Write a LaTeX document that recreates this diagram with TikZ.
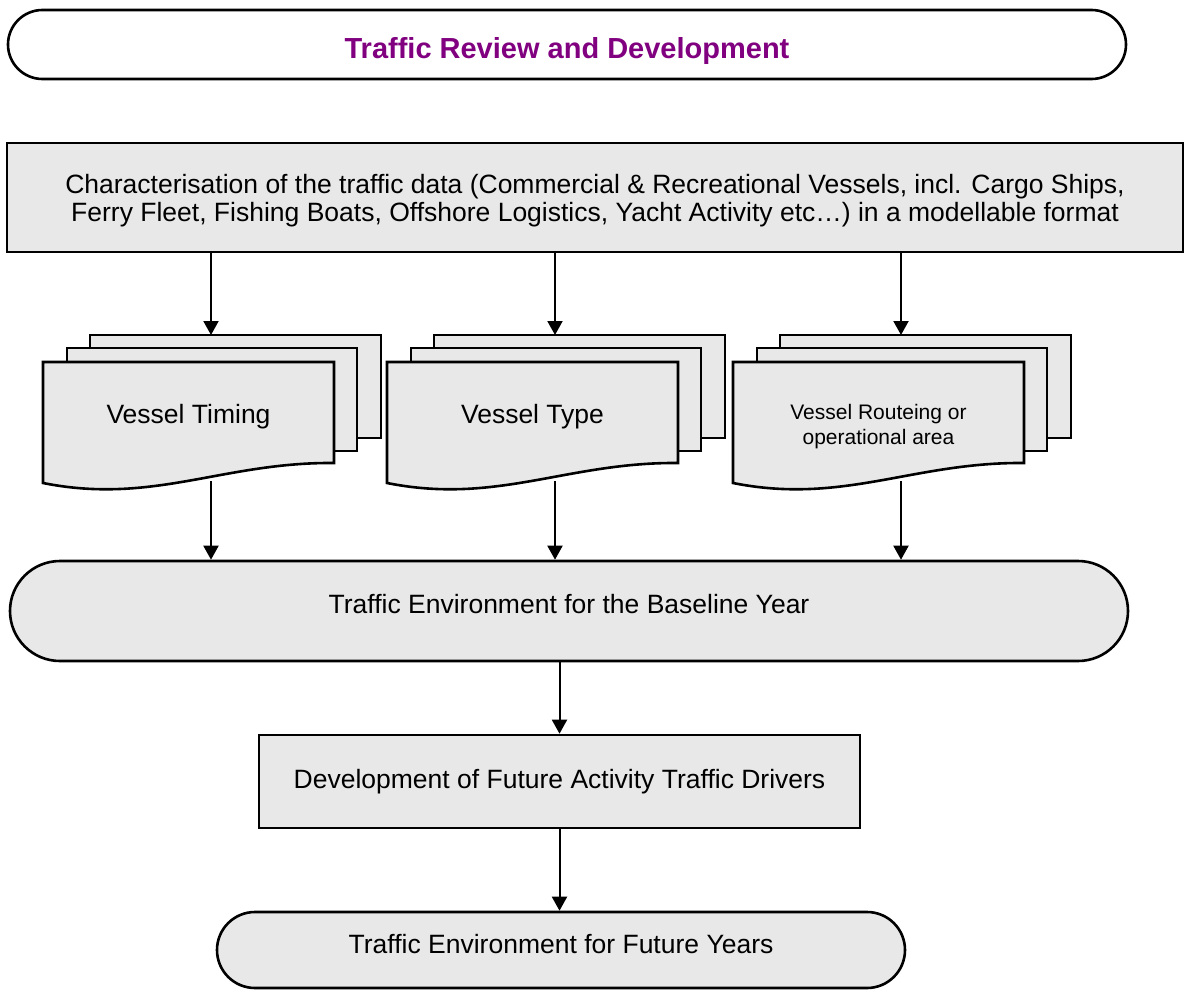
\documentclass[tikz,border=0pt]{standalone}
\usepackage{fontspec}
\setmainfont{Liberation Sans}
\usepackage{tikz}
\usetikzlibrary{arrows.meta,shapes.misc,calc}
\definecolor{paper}{HTML}{E8E8E8}
\definecolor{heading}{HTML}{800080}

\tikzset{
  box/.style={draw=black,line width=2.6pt,fill=paper,rectangle,inner sep=0pt},
  pill/.style={draw=black,line width=2.6pt,fill=paper,rounded rectangle,inner sep=0pt},
  sheet/.style={draw=black,line width=2.6pt,fill=paper},
  flow/.style={line width=2pt,-{Triangle[length=14pt,width=15pt]}},
  body/.style={font=\fontsize{26.5}{28}\selectfont,align=center}
}

\begin{document}
\begin{tikzpicture}[x=1pt,y=-1pt]
  \useasboundingbox (0,0) rectangle (1184,990);
  % heading
  \node[pill,fill=white,minimum width=1118pt,minimum height=69pt,text=heading,
        font=\bfseries\fontsize{29}{34}\selectfont,text height=29pt,text depth=0pt]
      (head) at (567,44.5) {Traffic Review and Development};
  % traffic data
  \node[box,body,minimum width=1176pt,minimum height=109pt,text depth=-2pt] (char) at (595,197.5)
      {Characterisation of the traffic data (Commercial \& Recreational Vessels, incl. Cargo Ships,\\
       Ferry Fleet, Fishing Boats, Offshore Logistics, Yacht Activity etc…) in a modellable format};
  % stacked documents
  \foreach \dx [count=\i] in {0,344,690}{
    \draw[sheet] (90+\dx,335) rectangle (381+\dx,438);
    \draw[sheet] (67+\dx,348) rectangle (357+\dx,451);
    \draw[sheet] (43+\dx,362) -- (334+\dx,362) -- (334+\dx,463)
       .. controls (223+\dx,462) and (153+\dx,505) .. (43+\dx,483) -- cycle;
    \coordinate (in\i) at (211+\dx,335);
    \coordinate (out\i) at (211+\dx,481);}
  \node[body] (timing) at (188.5,417) {Vessel Timing};
  \node[body] (type) at (532.5,417) {Vessel Type};
  \node[align=center,font=\fontsize{21}{25}\selectfont] (routeing) at (878.5,427)
      {Vessel Routeing or\\operational area};
  % baseline, drivers, future
  \node[pill,body,minimum width=1118pt,minimum height=100pt,text height=19pt,text depth=13.5pt]
      (base) at (569,611) {Traffic Environment for the Baseline Year};
  \node[box,body,minimum width=601pt,minimum height=93pt] (drivers) at (559.5,781.5)
      {Development of Future Activity Traffic Drivers};
  \node[pill,body,minimum width=688pt,minimum height=76pt,text height=19pt,text depth=13pt]
      (future) at (561,950) {Traffic Environment for Future Years};
  % connectors
  \foreach \i in {1,2,3}{
    \draw[flow] (char.south -| in\i) -- (in\i);
    \draw[flow] (out\i) -- (out\i |- base.north);}
  \draw[flow] (base.south -| drivers.north) -- (drivers.north);
  \draw[flow] (drivers.south) -- (drivers.south |- future.north);
\end{tikzpicture}
\end{document}
